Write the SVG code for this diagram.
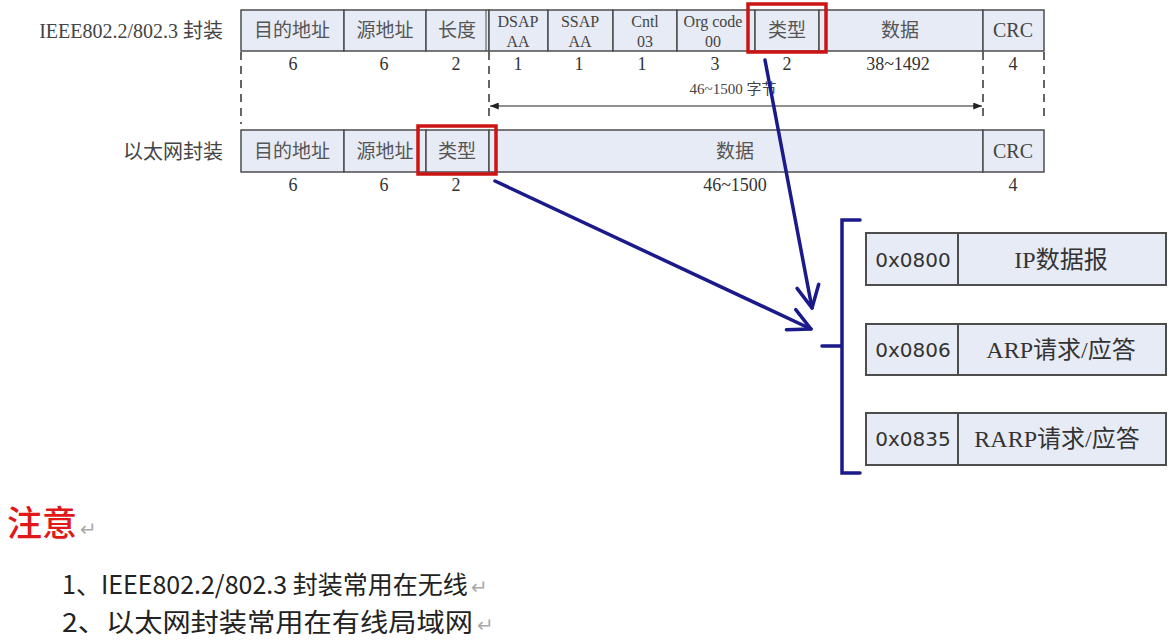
<svg xmlns="http://www.w3.org/2000/svg" width="1173" height="640" viewBox="0 0 1173 640">
<style>
.cell{fill:#e7ebf5;stroke:#4d4d4d;stroke-width:1.5}
.tbox{fill:#e7ebf5;stroke:#4d4d4d;stroke-width:2}
.cn{font-family:"Liberation Serif","Noto Sans CJK SC",serif;font-size:19px;fill:#555;text-anchor:middle}
.lat{font-family:"Liberation Serif","Noto Sans CJK SC",serif;font-size:16px;fill:#444;text-anchor:middle}
.crc{font-family:"Liberation Serif",serif;font-size:20px;fill:#444;text-anchor:middle}
.num{font-family:"Liberation Serif",serif;font-size:18px;fill:#333;text-anchor:middle}
.lbl{font-family:"Liberation Serif","Noto Sans CJK SC",serif;font-size:20px;fill:#444;text-anchor:end}
.red{fill:none;stroke:#cc1414;stroke-width:3.5}
.dash{stroke:#333;stroke-width:1.5;stroke-dasharray:8 6;fill:none}
.nav{stroke:#1a1a8a;stroke-width:3.5;fill:none;stroke-linecap:round}
.hex{font-family:"DejaVu Sans",sans-serif;font-size:20px;fill:#333;text-anchor:middle}
.tt{font-family:"Liberation Serif","Noto Sans CJK SC",serif;font-size:24px;fill:#333;text-anchor:middle}
.note{font-family:"Noto Sans CJK SC","Noto Sans",sans-serif;fill:#222}
.ret{font-family:"DejaVu Sans",sans-serif;font-size:20px;fill:#aaa}
</style>
<defs>
<marker id="vhead" viewBox="0 0 26 26" refX="24" refY="13" markerWidth="26" markerHeight="26" markerUnits="userSpaceOnUse" orient="auto">
<path d="M2,2 L24,13 L2,24" fill="none" stroke="#1a1a8a" stroke-width="3.5" stroke-linecap="round" stroke-linejoin="round"/>
</marker>
<marker id="dimA" viewBox="0 0 10 8" refX="10" refY="4" markerWidth="9" markerHeight="7" markerUnits="userSpaceOnUse" orient="auto-start-reverse">
<path d="M0,0 L10,4 L0,8 Z" fill="#222"/>
</marker>
</defs>

<g id="label-ieee"><text class="lbl" x="223" y="38">IEEE802.2/802.3 封装</text></g>
<g id="label-eth"><text class="lbl" x="223" y="159">以太网封装</text></g>

<g id="ieee-frame">
<rect class="cell" x="241" y="10" width="103" height="41"/><text class="cn" x="292" y="37">目的地址</text>
<rect class="cell" x="344" y="10" width="82" height="41"/><text class="cn" x="385" y="37">源地址</text>
<rect class="cell" x="426" y="10" width="63" height="41"/><text class="cn" x="457" y="37">长度</text>
<line x1="486" y1="10" x2="486" y2="51" stroke="#4d4d4d" stroke-width="1"/>
<rect class="cell" x="489" y="10" width="59" height="41"/><text class="lat" x="518" y="27">DSAP</text><text class="lat" x="518" y="47">AA</text>
<rect class="cell" x="548" y="10" width="65" height="41"/><text class="lat" x="580" y="27">SSAP</text><text class="lat" x="580" y="47">AA</text>
<rect class="cell" x="613" y="10" width="64" height="41"/><text class="lat" x="645" y="27">Cntl</text><text class="lat" x="645" y="47">03</text>
<rect class="cell" x="677" y="10" width="78" height="41"/><text class="lat" x="713" y="27">Org code</text><text class="lat" x="713" y="47">00</text>
<rect class="cell" x="755" y="10" width="64" height="41"/><text class="cn" x="787" y="37">类型</text>
<rect class="cell" x="819" y="10" width="164" height="41"/><text class="cn" x="900" y="37">数据</text>
<rect class="cell" x="983" y="10" width="61" height="41"/><text class="crc" x="1013" y="37">CRC</text>
<rect class="red" x="748" y="4" width="78" height="48"/>
</g>

<g id="ieee-sizes">
<text class="num" x="293" y="70">6</text>
<text class="num" x="384" y="70">6</text>
<text class="num" x="456" y="70">2</text>
<text class="num" x="518" y="70">1</text>
<text class="num" x="579" y="70">1</text>
<text class="num" x="642" y="70">1</text>
<text class="num" x="715" y="70">3</text>
<text class="num" x="787" y="70">2</text>
<text class="num" x="898" y="70">38~1492</text>
<text class="num" x="1013" y="70">4</text>
<text x="733" y="94" font-family="Liberation Serif,'Noto Sans CJK SC',serif" font-size="15" fill="#444" text-anchor="middle">46~1500 字节</text>
</g>

<g id="eth-frame">
<rect class="cell" x="241" y="130" width="103" height="42"/><text class="cn" x="292" y="158">目的地址</text>
<rect class="cell" x="344" y="130" width="82" height="42"/><text class="cn" x="385" y="158">源地址</text>
<rect class="cell" x="426" y="130" width="63" height="42"/><text class="cn" x="457" y="158">类型</text>
<rect class="cell" x="489" y="130" width="494" height="42"/><text class="cn" x="735" y="158">数据</text>
<rect class="cell" x="983" y="130" width="61" height="42"/><text class="crc" x="1013" y="158">CRC</text>
<rect class="red" x="418" y="126" width="78" height="48"/>
</g>

<g id="eth-sizes">
<text class="num" x="293" y="191">6</text>
<text class="num" x="384" y="191">6</text>
<text class="num" x="456" y="191">2</text>
<text class="num" x="735" y="191">46~1500</text>
<text class="num" x="1013" y="191">4</text>
</g>

<g id="type-table">
<rect class="tbox" x="866" y="233" width="300" height="52"/><line x1="958" y1="233" x2="958" y2="285" stroke="#4d4d4d" stroke-width="2"/>
<text class="hex" x="913" y="267">0x0800</text><text class="tt" x="1061" y="268">IP数据报</text>
<rect class="tbox" x="866" y="324" width="300" height="51"/><line x1="958" y1="324" x2="958" y2="375" stroke="#4d4d4d" stroke-width="2"/>
<text class="hex" x="913" y="357">0x0806</text><text class="tt" x="1061" y="358">ARP请求/应答</text>
<rect class="tbox" x="866" y="413" width="300" height="52"/><line x1="958" y1="413" x2="958" y2="465" stroke="#4d4d4d" stroke-width="2"/>
<text class="hex" x="913" y="446">0x0835</text><text class="tt" x="1057" y="447">RARP请求/应答</text>
</g>

<g id="bracket">
<path class="nav" d="M860,220 L842,220 L842,473 L860,473 M842,346 L822,346"/>
</g>

<g id="connectors">
<line class="dash" x1="241" y1="52" x2="241" y2="124"/>
<line class="dash" x1="489" y1="52" x2="489" y2="122"/>
<line class="dash" x1="983" y1="52" x2="983" y2="122"/>
<line class="dash" x1="1044" y1="52" x2="1044" y2="122"/>
<line x1="490" y1="106" x2="982" y2="106" stroke="#222" stroke-width="1" marker-start="url(#dimA)" marker-end="url(#dimA)"/>
<line class="nav" x1="765" y1="60" x2="812" y2="308" marker-end="url(#vhead)"/>
<line class="nav" x1="495" y1="181" x2="811" y2="329" marker-end="url(#vhead)"/>
</g>

<g id="notes">
<text x="7" y="536" font-family="'Noto Sans CJK SC',serif" font-size="35" font-weight="500" fill="#e01818">注意</text>
<text class="ret" x="80" y="536">↵</text>
<text class="note" x="62" y="594" font-size="25">1、IEEE802.2/802.3 封装常用在无线</text>
<text class="ret" x="471" y="594">↵</text>
<text class="note" x="62" y="632" font-size="26" textLength="411" lengthAdjust="spacingAndGlyphs">2、以太网封装常用在有线局域网</text>
<text class="ret" x="477" y="632">↵</text>
</g>
</svg>
